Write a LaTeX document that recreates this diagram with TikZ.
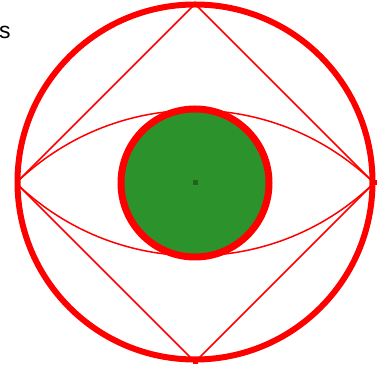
\documentclass[tikz,border=0pt]{standalone}
\usepackage{fontspec}
\setmainfont{Liberation Sans}
\definecolor{fillgreen}{RGB}{44,146,44}
\definecolor{dotgreen}{RGB}{34,100,30}
\begin{document}
\begin{tikzpicture}[x=1pt,y=1pt,
  thickred/.style={draw=red,line width=6pt},
  thinred/.style={draw=red,line width=1.5pt},
  vmark/.style={fill=red,inner sep=0pt,minimum size=5pt,rectangle},
  label/.style={inner sep=0pt,font=\fontsize{23}{27}\selectfont}]
\useasboundingbox (0,0) rectangle (385,371);
% text fragment
\node[label,anchor=base west] (txt) at (-1,332) {s};
% key points
\coordinate (L) at (16,188);
\coordinate (R) at (374,188);
\coordinate (T) at (195,367);
\coordinate (B) at (195,9);
\coordinate (C) at (195,188);
% big circle
\node[thickred,circle,minimum size=355pt,inner sep=0pt] (big) at (195,189) {};
% diamond
\draw[thinred,line join=miter] (L) -- (T) -- (R) -- (B) -- cycle;
% lens
\draw[thinred] (L) to[bend left=44] (R);
\draw[thinred] (L) to[bend right=44] (R);
% green circle
\node[circle,draw=red,line width=7pt,fill=fillgreen,minimum size=148pt,inner sep=0pt] (eye) at (C) {};
\node[fill=dotgreen,inner sep=0pt,minimum size=5pt,rectangle] (dot) at (C) {};
% vertex marks
\node[vmark] (mr) at (R) {};
\node[vmark] (mb) at (B) {};
\end{tikzpicture}
\end{document}
